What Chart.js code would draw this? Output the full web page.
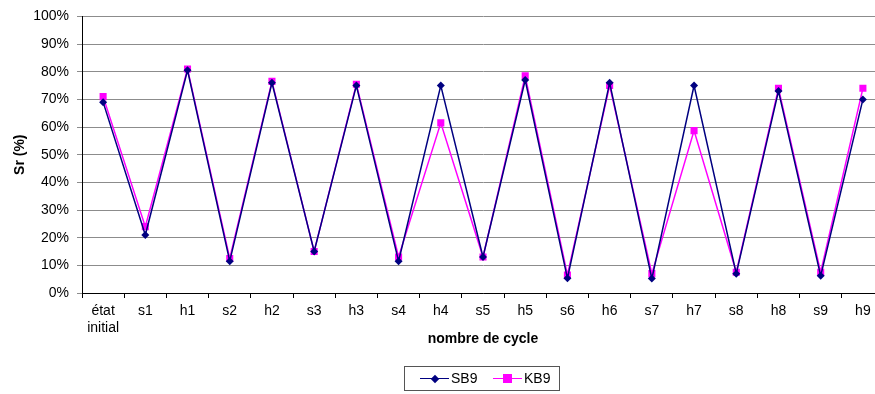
<!DOCTYPE html>
<html lang="fr">
<head>
<meta charset="UTF-8">
<title>Sr (%) - nombre de cycle</title>
<script src="https://cdn.jsdelivr.net/npm/chart.js"></script>
<style>
    body {
        margin: 0;
        padding: 0;
        background: #fff;
        overflow: hidden;
        font-family: "Liberation Sans", Arial, sans-serif;
    }
    #wrap {
        position: relative;
        width: 900px;
        height: 394px;
    }
    #legend {
        position: absolute;
        left: 404px;
        top: 366px;
        width: 154px;
        height: 23px;
        border: 1px solid #555;
        box-sizing: content-box;
        font-size: 14px;
        color: #000;
    }
    .item {
        position: absolute;
        top: 4px;
        height: 15px;
        line-height: 15px;
    }
    .line {
        position: absolute;
        top: 7px;
        width: 29px;
        height: 0;
        border-top: 1.5px solid;
    }
    .mark {
        position: absolute;
    }
    .txt {
        position: absolute;
        left: 31px;
        top: 0;
        white-space: nowrap;
    }
</style>
</head>
<body>
<div id="wrap">
    <canvas id="chart"></canvas>
    <div id="legend">
        <div class="item" style="left:15px">
            <div class="line" style="border-color:#000080"></div>
            <div class="mark" style="left:12px;top:5px;width:6px;height:6px;background:#000080;transform:rotate(45deg)"></div>
            <span class="txt">SB9</span>
        </div>
        <div class="item" style="left:88px">
            <div class="line" style="border-color:#ff00ff"></div>
            <div class="mark" style="left:10px;top:3px;width:9px;height:9px;background:#ff00ff"></div>
            <span class="txt">KB9</span>
        </div>
    </div>
</div>

<script>
    // Data
    const cycles = [["état", "initial"], "s1", "h1", "s2", "h2", "s3", "h3", "s4", "h4", "s5",
        "h5", "s6", "h6", "s7", "h7", "s8", "h8", "s9", "h9"];
    const sb9 = [69, 21, 80.5, 11.5, 76, 15, 75, 11.5, 75, 13, 77, 5.3, 76, 5.2, 75, 7, 73, 6.2, 70];
    const kb9 = [71, 24, 81, 12.5, 76.5, 15, 75.5, 13, 61.5, 13, 78.5, 6.5, 75, 7, 58.7, 7.5, 74, 7.5, 74];
    const yTicks = [0, 10, 20, 30, 40, 50, 60, 70, 80, 90, 100];

    const font = { family: "'Liberation Sans', Arial, sans-serif", size: 14 };
    const boldFont = { family: font.family, size: 14, weight: "bold" };

    new Chart(document.getElementById("chart"), {
        type: "line",
        data: {
            labels: cycles,
            datasets: [
                {
                    label: "SB9",
                    data: sb9,
                    borderColor: "#000080",
                    backgroundColor: "#000080",
                    borderWidth: 1.5,
                    pointStyle: "rectRot",
                    pointRadius: 4,
                    pointBorderWidth: 0,
                    tension: 0
                },
                {
                    label: "KB9",
                    data: kb9,
                    borderColor: "#ff00ff",
                    backgroundColor: "#ff00ff",
                    borderWidth: 1.5,
                    pointStyle: "rect",
                    pointRadius: 5,
                    pointBorderWidth: 0,
                    tension: 0
                }
            ]
        },
        options: {
            responsive: true,
            maintainAspectRatio: false,
            animation: false,
            layout: { padding: { top: 12, right: 16, bottom: 42, left: 0 } },
            plugins: {
                legend: { display: false },
                tooltip: { enabled: false }
            },
            scales: {
                x: {
                    offset: true,
                    grid: {
                        offset: true,
                        drawOnChartArea: false,
                        drawTicks: true,
                        tickLength: 5,
                        color: "#000"
                    },
                    border: { color: "#000", width: 1 },
                    ticks: { color: "#000", font: font, maxRotation: 0, autoSkip: false, padding: 5 },
                    title: {
                        display: true,
                        text: "nombre de cycle",
                        color: "#000",
                        font: boldFont,
                        padding: { top: 2, bottom: 4 }
                    },
                    afterFit: s => { s.height = 59; }
                },
                y: {
                    min: 0,
                    max: 100,
                    afterBuildTicks: s => { s.ticks = yTicks.map(v => ({ value: v })); },
                    grid: {
                        color: "#8c8c8c",
                        tickLength: 5,
                        lineWidth: 1
                    },
                    border: { color: "#000", width: 1 },
                    ticks: {
                        color: "#000",
                        font: font,
                        padding: 8,
                        callback: v => v + "%"
                    },
                    title: {
                        display: true,
                        text: "Sr (%)",
                        color: "#000",
                        font: boldFont,
                        padding: { top: 12, bottom: 0 }
                    },
                    afterFit: s => { s.width = 82; }
                }
            }
        }
    });
</script>
</body>
</html>
